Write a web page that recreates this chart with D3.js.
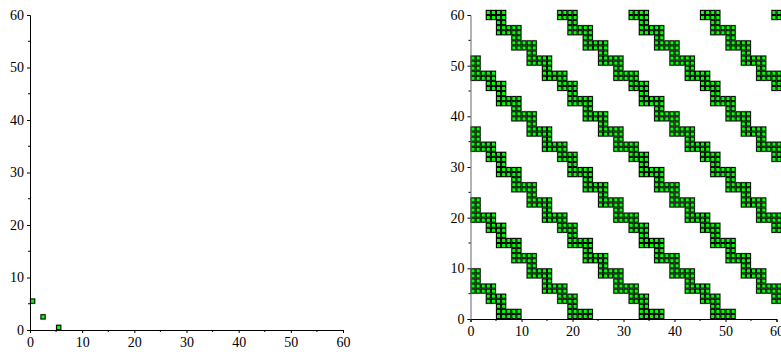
<!DOCTYPE html>
<html lang="en">
<head>
<meta charset="UTF-8">
<script src="https://cdn.jsdelivr.net/npm/d3@7/dist/d3.min.js"></script>
<style>
  body { margin: 0; background: #fff; }
</style>
</head>
<body>
<svg id="main" width="781" height="352"></svg>
<script>
const tickValues = [0, 10, 20, 30, 40, 50, 60];
const minorTicks = [5, 15, 25, 35, 45, 55];

// left plot: the three filled cells [col, row]
const leftCells = [[0, 5], [2, 2], [5, 0]];

// right plot: filled cells, one entry per row (row 0 at the bottom), as [firstCol, lastCol] runs
const rightRows = [
    [[5, 9], [19, 23], [33, 37], [47, 51]],                 // 0
    [[5, 9], [19, 23], [33, 37], [47, 51]],                 // 1
    [[5, 6], [19, 20], [33, 34], [47, 48]],                 // 2
    [[3, 6], [17, 20], [31, 34], [45, 48], [59, 60]],       // 3
    [[3, 6], [17, 20], [31, 34], [45, 48], [59, 60]],       // 4
    [[0, 4], [14, 18], [28, 32], [42, 46], [56, 60]],       // 5
    [[0, 4], [14, 18], [28, 32], [42, 46], [56, 60]],       // 6
    [[0, 1], [14, 15], [28, 29], [42, 43], [56, 57]],       // 7
    [[0, 1], [11, 15], [25, 29], [39, 43], [53, 57]],       // 8
    [[0, 1], [11, 15], [25, 29], [39, 43], [53, 57]],       // 9
    [[11, 12], [25, 26], [39, 40], [53, 54]],               // 10
    [[8, 12], [22, 26], [36, 40], [50, 54]],                // 11
    [[8, 12], [22, 26], [36, 40], [50, 54]],                // 12
    [[8, 9], [22, 23], [36, 37], [50, 51]],                 // 13
    [[5, 9], [19, 23], [33, 37], [47, 51]],                 // 14
    [[5, 9], [19, 23], [33, 37], [47, 51]],                 // 15
    [[5, 6], [19, 20], [33, 34], [47, 48]],                 // 16
    [[3, 6], [17, 20], [31, 34], [45, 48], [59, 60]],       // 17
    [[3, 6], [17, 20], [31, 34], [45, 48], [59, 60]],       // 18
    [[0, 4], [14, 18], [28, 32], [42, 46], [56, 60]],       // 19
    [[0, 4], [14, 18], [28, 32], [42, 46], [56, 60]],       // 20
    [[0, 1], [14, 15], [28, 29], [42, 43], [56, 57]],       // 21
    [[0, 1], [11, 15], [25, 29], [39, 43], [53, 57]],       // 22
    [[0, 1], [11, 15], [25, 29], [39, 43], [53, 57]],       // 23
    [[11, 12], [25, 26], [39, 40], [53, 54]],               // 24
    [[8, 12], [22, 26], [36, 40], [50, 54]],                // 25
    [[8, 12], [22, 26], [36, 40], [50, 54]],                // 26
    [[8, 9], [22, 23], [36, 37], [50, 51]],                 // 27
    [[5, 9], [19, 23], [33, 37], [47, 51]],                 // 28
    [[5, 9], [19, 23], [33, 37], [47, 51]],                 // 29
    [[5, 6], [19, 20], [33, 34], [47, 48]],                 // 30
    [[3, 6], [17, 20], [31, 34], [45, 48], [59, 60]],       // 31
    [[3, 6], [17, 20], [31, 34], [45, 48], [59, 60]],       // 32
    [[0, 4], [14, 18], [28, 32], [42, 46], [56, 60]],       // 33
    [[0, 4], [14, 18], [28, 32], [42, 46], [56, 60]],       // 34
    [[0, 1], [14, 15], [28, 29], [42, 43], [56, 57]],       // 35
    [[0, 1], [11, 15], [25, 29], [39, 43], [53, 57]],       // 36
    [[0, 1], [11, 15], [25, 29], [39, 43], [53, 57]],       // 37
    [[11, 12], [25, 26], [39, 40], [53, 54]],               // 38
    [[8, 12], [22, 26], [36, 40], [50, 54]],                // 39
    [[8, 12], [22, 26], [36, 40], [50, 54]],                // 40
    [[8, 9], [22, 23], [36, 37], [50, 51]],                 // 41
    [[5, 9], [19, 23], [33, 37], [47, 51]],                 // 42
    [[5, 9], [19, 23], [33, 37], [47, 51]],                 // 43
    [[5, 6], [19, 20], [33, 34], [47, 48]],                 // 44
    [[3, 6], [17, 20], [31, 34], [45, 48], [59, 60]],       // 45
    [[3, 6], [17, 20], [31, 34], [45, 48], [59, 60]],       // 46
    [[0, 4], [14, 18], [28, 32], [42, 46], [56, 60]],       // 47
    [[0, 4], [14, 18], [28, 32], [42, 46], [56, 60]],       // 48
    [[0, 1], [14, 15], [28, 29], [42, 43], [56, 57]],       // 49
    [[0, 1], [11, 15], [25, 29], [39, 43], [53, 57]],       // 50
    [[0, 1], [11, 15], [25, 29], [39, 43], [53, 57]],       // 51
    [[11, 12], [25, 26], [39, 40], [53, 54]],               // 52
    [[8, 12], [22, 26], [36, 40], [50, 54]],                // 53
    [[8, 12], [22, 26], [36, 40], [50, 54]],                // 54
    [[8, 9], [22, 23], [36, 37], [50, 51]],                 // 55
    [[5, 9], [19, 23], [33, 37], [47, 51]],                 // 56
    [[5, 9], [19, 23], [33, 37], [47, 51]],                 // 57
    [[5, 6], [19, 20], [33, 34], [47, 48]],                 // 58
    [[3, 6], [17, 20], [31, 34], [45, 48], [59, 60]],       // 59
    [[3, 6], [17, 20], [31, 34], [45, 48], [59, 60]]        // 60
];

// unpack the runs into single cells
const rightCells = [];
rightRows.forEach((runs, row) => {
    runs.forEach(([c0, c1]) => {
        for (let c = c0; c <= c1; c++) rightCells.push([c, row]);
    });
});

const svg = d3.select("#main");
const font = '"Liberation Serif", "Times New Roman", serif';

function drawPanel(cells, xr, yr, yAxisColor) {
    const x = d3.scaleLinear().domain([0, 60]).range(xr);
    const y = d3.scaleLinear().domain([0, 60]).range(yr);
    const g = svg.append("g");
    const w = x(1) - x(0), h = y(0) - y(1);

    // soft grey fringe round the cells
    g.append("g").selectAll("rect").data(cells).join("rect")
        .attr("x", d => x(d[0]) - 0.5).attr("y", d => y(d[1] + 1) - 0.5)
        .attr("width", w + 1).attr("height", h + 1)
        .attr("fill", "#c8c8c8");
    g.append("g").selectAll("rect").data(cells).join("rect")
        .attr("x", d => x(d[0]) + 0.5).attr("y", d => y(d[1] + 1) + 0.5)
        .attr("width", w - 1).attr("height", h - 1)
        .attr("fill", "#00ff00").attr("stroke", "#000").attr("stroke-width", 1);

    const xa = g.append("g").attr("transform", `translate(0,${yr[0]})`)
        .call(d3.axisBottom(x).tickValues(tickValues).tickSize(3).tickPadding(4).tickFormat(d3.format("d")));
    xa.append("g").selectAll("line").data(minorTicks).join("line")
        .attr("x1", d => x(d)).attr("x2", d => x(d)).attr("y1", 0).attr("y2", 2).attr("stroke", "#000");
    const ya = g.append("g").attr("transform", `translate(${xr[0]},0)`)
        .call(d3.axisLeft(y).tickValues(tickValues).tickSize(3).tickPadding(3).tickFormat(d3.format("d")));
    ya.append("g").selectAll("line").data(minorTicks).join("line")
        .attr("y1", d => y(d)).attr("y2", d => y(d)).attr("x1", 0).attr("x2", -2).attr("stroke", "#000");
    [xa, ya].forEach(a => {
        a.attr("font-family", font).attr("font-size", 14);
        a.select(".domain").attr("stroke", "#000");
        a.selectAll("text").attr("fill", "#000");
    });
    ya.select(".domain").attr("stroke", yAxisColor);
}

drawPanel(leftCells, [30, 343], [330, 15], "#000");
drawPanel(rightCells, [470.5, 776.5], [319, 15], "#666");
</script>
</body>
</html>
